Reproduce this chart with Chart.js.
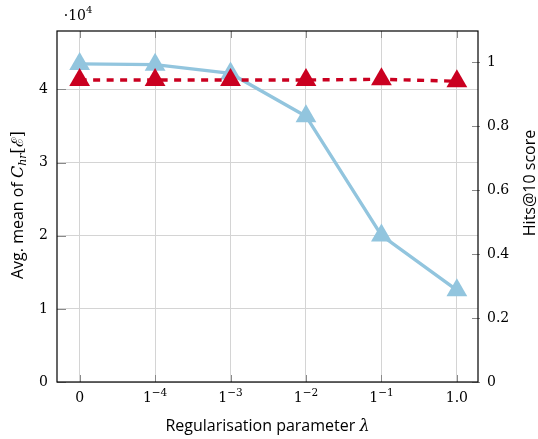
<!DOCTYPE html>
<html>
<head>
<meta charset="utf-8">
<script src="https://cdn.jsdelivr.net/npm/chart.js@4.4.0/dist/chart.umd.min.js"></script>
<style>
  html, body { margin: 0; padding: 0; background: #fff; }
</style>
</head>
<body>
<canvas id="chart" width="538" height="439"></canvas>
<script>
// lambda values (base + exponent, drawn as 1^-4 etc.)
var lambdaBase = ['0', '1', '1', '1', '1', '1.0'];
var lambdaExp = ['', '\u22124', '\u22123', '\u22122', '\u22121', ''];

// avg mean of C_hr[E] (left axis) and hits@10 (right axis)
var avgMeanChr = [43500, 43400, 42200, 36350, 20050, 12550];
var hits10 = [0.944, 0.944, 0.944, 0.944, 0.946, 0.940];

var leftTicks = [0, 10000, 20000, 30000, 40000];
var rightTicks = [0, 0.2, 0.4, 0.6, 0.8, 1];

var serif = '"DejaVu Serif", "Liberation Serif", serif';
var sans = '"Open Sans", Lato, sans-serif';
var gridColor = '#d4d4d4';
var tickColor = '#8a8a8a';

function pts(arr) {
  let out = [];
  for (let i = 0; i < arr.length; i++) out.push({ x: i, y: arr[i] });
  return out;
}

// draws a list of text runs side by side, centred at (0,0) of the current transform
function drawRuns(ctx, runs) {
  let total = 0;
  for (let i = 0; i < runs.length; i++) {
    ctx.font = runs[i].font;
    runs[i].w = ctx.measureText(runs[i].text).width;
    total += runs[i].w;
  }
  let x = -total / 2;
  ctx.textAlign = 'left';
  ctx.textBaseline = 'alphabetic';
  for (let i = 0; i < runs.length; i++) {
    ctx.font = runs[i].font;
    ctx.fillText(runs[i].text, x, runs[i].dy || 0);
    x += runs[i].w;
  }
}

var decorPlugin = {
  id: 'decor',
  beforeDatasetsDraw(chart) {
    let ctx = chart.ctx;
    let a = chart.chartArea;
    let xs = chart.scales.x, yl = chart.scales.y, yr = chart.scales.y1;
    ctx.save();
    ctx.strokeStyle = tickColor;
    ctx.lineWidth = 1;
    ctx.beginPath();
    for (let i = 0; i < lambdaBase.length; i++) {
      let px = Math.round(xs.getPixelForValue(i)) + 0.5;
      ctx.moveTo(px, a.bottom); ctx.lineTo(px, a.bottom - 7);
      ctx.moveTo(px, a.top); ctx.lineTo(px, a.top + 7);
    }
    for (let i = 0; i < leftTicks.length; i++) {
      let py = Math.round(yl.getPixelForValue(leftTicks[i])) + 0.5;
      ctx.moveTo(a.left, py); ctx.lineTo(a.left + 9, py);
    }
    for (let i = 0; i < rightTicks.length; i++) {
      let py = Math.round(yr.getPixelForValue(rightTicks[i])) + 0.5;
      ctx.moveTo(a.right - 6, py); ctx.lineTo(a.right + 2, py);
    }
    ctx.stroke();
    ctx.restore();
  },
  afterDraw(chart) {
    let ctx = chart.ctx;
    let a = chart.chartArea;
    let xs = chart.scales.x;
    ctx.save();
    // frame
    ctx.strokeStyle = '#000';
    ctx.lineWidth = 1.2;
    ctx.strokeRect(a.left, a.top, a.right - a.left, a.bottom - a.top);

    ctx.fillStyle = '#000';
    // x tick labels with superscripts
    for (let i = 0; i < lambdaBase.length; i++) {
      ctx.save();
      ctx.translate(xs.getPixelForValue(i), a.bottom + 20);
      let runs = [{ text: lambdaBase[i], font: '14px ' + serif }];
      if (lambdaExp[i] !== '') runs.push({ text: lambdaExp[i], font: '10.5px ' + serif, dy: -6 });
      drawRuns(ctx, runs);
      ctx.restore();
    }

    // x title
    ctx.save();
    ctx.translate((a.left + a.right) / 2, 431);
    drawRuns(ctx, [
      { text: 'Regularisation parameter ', font: '16px ' + sans },
      { text: '\u03bb', font: 'italic 16px ' + serif }
    ]);
    ctx.restore();

    // left title
    ctx.save();
    ctx.translate(23, 205);
    ctx.rotate(-Math.PI / 2);
    drawRuns(ctx, [
      { text: 'Avg. mean of ', font: '16px ' + sans },
      { text: 'C', font: 'italic 16px ' + serif },
      { text: 'hr', font: 'italic 11px ' + serif, dy: 3 },
      { text: '[', font: '16px ' + serif },
      { text: '\u2130', font: '16px ' + serif },
      { text: ']', font: '16px ' + serif }
    ]);
    ctx.restore();

    // right title
    ctx.save();
    ctx.translate(535, 183);
    ctx.rotate(-Math.PI / 2);
    drawRuns(ctx, [{ text: 'Hits@10 score', font: '16px ' + sans }]);
    ctx.restore();

    // axis multiplier
    ctx.save();
    ctx.translate(78, 20);
    drawRuns(ctx, [
      { text: '\u00b710', font: '14px ' + serif },
      { text: '4', font: '10px ' + serif, dy: -7 }
    ]);
    ctx.restore();

    ctx.restore();
  }
};

var ctx = document.getElementById('chart').getContext('2d');
var chart = new Chart(ctx, {
  type: 'line',
  data: {
    datasets: [{
      label: 'Hits@10',
      data: pts(hits10),
      yAxisID: 'y1',
      borderColor: '#ca0020',
      backgroundColor: '#ca0020',
      borderWidth: 3.4,
      borderDash: [7, 6.5],
      pointStyle: 'triangle',
      pointRadius: 12,
      pointBorderWidth: 0,
      pointBackgroundColor: '#ca0020',
      order: 0
    }, {
      label: 'Avg. mean',
      data: pts(avgMeanChr),
      yAxisID: 'y',
      borderColor: '#92c5de',
      backgroundColor: '#92c5de',
      borderWidth: 3.4,
      pointStyle: 'triangle',
      pointRadius: 12,
      pointBorderWidth: 0,
      pointBackgroundColor: '#92c5de',
      order: 1
    }]
  },
  options: {
    responsive: false,
    animation: false,
    layout: { padding: { top: 31, left: 0, right: 0, bottom: 0 } },
    plugins: { legend: { display: false }, tooltip: { enabled: false } },
    scales: {
      x: {
        type: 'linear',
        min: -0.3,
        max: 5.28,
        afterBuildTicks: function (s) { s.ticks = lambdaBase.map(function (_, i) { return { value: i }; }); },
        afterFit: function (s) { s.height = 57; },
        ticks: { display: false },
        grid: { color: gridColor, drawTicks: false },
        border: { display: false }
      },
      y: {
        position: 'left',
        min: 0,
        max: 48000,
        afterBuildTicks: function (s) { s.ticks = leftTicks.map(function (v) { return { value: v }; }); },
        afterFit: function (s) { s.width = 57; },
        ticks: {
          padding: 9,
          color: '#000',
          font: { family: serif, size: 14 },
          callback: function (v) { return String(v / 10000); }
        },
        grid: { color: gridColor, drawTicks: false },
        border: { display: false }
      },
      y1: {
        position: 'right',
        min: 0,
        max: 1.097,
        afterBuildTicks: function (s) { s.ticks = rightTicks.map(function (v) { return { value: v }; }); },
        afterFit: function (s) { s.width = 60; },
        ticks: {
          padding: 9,
          color: '#000',
          font: { family: serif, size: 14 },
          callback: function (v) { return (v === 0 || v === 1) ? String(v) : v.toFixed(1); }
        },
        grid: { display: false, drawTicks: false },
        border: { display: false }
      }
    }
  },
  plugins: [decorPlugin]
});
</script>
</body>
</html>
